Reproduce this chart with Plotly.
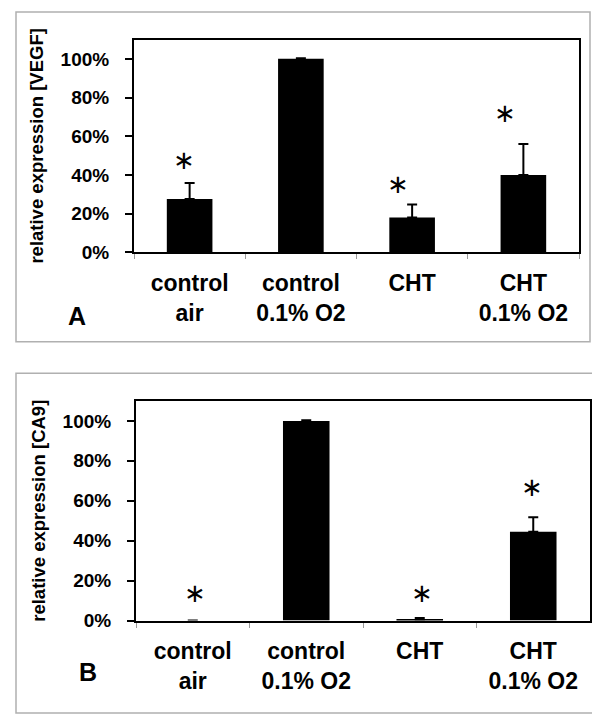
import plotly.graph_objects as go

# ---- data ----
categories = ["control<br>air", "control<br>0.1% O2", "CHT", "CHT<br>0.1% O2"]

vegf_values = [27.5, 100, 18, 40]
vegf_errors = [8.3, 0.3, 6.7, 16]
vegf_star_y = [47.5, None, 35.5, 72]

ca9_values = [0, 100, 0.5, 44.5]
ca9_errors = [None, 0.3, 0.8, 7.3]
ca9_star_y = [14, None, 14, 67]

y_ticks = [0, 20, 40, 60, 80, 100]
y_ticktext = [f"{v}%" for v in y_ticks]

# ---- layout helpers ----
W, H = 600, 724
def px_x(x): return x / W
def px_y(y): return 1 - y / H

FONT = "Liberation Sans, Arial, Helvetica, sans-serif"

fig = go.Figure()

panels = [
    dict(vals=vegf_values, errs=vegf_errors, stars=vegf_star_y, xa="x", ya="y",
         title="relative expression [VEGF]", letter="A",
         dom_x=[px_x(126), px_x(571)], dom_y=[px_y(248), px_y(32)],
         frame=(8, 4, 582, 339), letter_pos=(58, 313),
         star_shift=[-6, 0, -14, -18]),
    dict(vals=ca9_values, errs=ca9_errors, stars=ca9_star_y, xa="x2", ya="y2",
         title="relative expression [CA9]", letter="B",
         dom_x=[px_x(128), px_x(582)], dom_y=[px_y(622), px_y(399)],
         frame=(8, 371, 593, 716), letter_pos=(69, 690),
         star_shift=[2, 0, 2, -1]),
]

annotations = []
shapes = []
for i, p in enumerate(panels):
    fig.add_trace(go.Bar(
        x=categories, y=p["vals"], xaxis=p["xa"], yaxis=p["ya"],
        marker=dict(color="black", line=dict(width=0)),
        error_y=dict(type="data", array=p["errs"], symmetric=False,
                     arrayminus=[None if e is None else 0 for e in p["errs"]],
                     color="black", thickness=2, width=5),
        showlegend=False, hoverinfo="skip",
    ))
    sfx = "" if i == 0 else "2"
    fig.layout["xaxis" + sfx] = dict(
        domain=p["dom_x"], anchor="y" + sfx, type="category",
        showline=True, linecolor="black", linewidth=2, mirror=True,
        ticks="outside", tickson="boundaries", ticklen=5, tickcolor="#999999",
        tickwidth=1, showgrid=False, zeroline=False,
        tickfont=dict(family=FONT, size=23, color="black", weight="bold"),
        ticklabelstandoff=9,
    )
    fig.layout["yaxis" + sfx] = dict(
        domain=p["dom_y"], anchor="x" + sfx, range=[0, 110],
        tickvals=y_ticks, ticktext=y_ticktext,
        showline=True, linecolor="black", linewidth=2, mirror=True,
        ticks="outside", ticklen=7, tickcolor="black", tickwidth=2,
        showgrid=False, zeroline=False,
        ticklabelstandoff=12,
        tickfont=dict(family=FONT, size=19, color="black", weight="bold"),
        title=dict(text=p["title"], standoff=12,
                   font=dict(family=FONT, size=18.5, color="black", weight="bold")),
    )
    for cat, sy, sh in zip(categories, p["stars"], p["star_shift"]):
        if sy is None:
            continue
        annotations.append(dict(
            x=cat, y=sy, xref=p["xa"], yref=p["ya"], text="∗", showarrow=False,
            xshift=sh, font=dict(family="DejaVu Sans", size=26, color="black"),
        ))
    lx, ly = p["letter_pos"]
    annotations.append(dict(
        x=px_x(lx), y=px_y(ly), xref="paper", yref="paper", text=p["letter"],
        showarrow=False, font=dict(family=FONT, size=25, color="black", weight="bold"),
    ))
    x0, y0, x1, y1 = p["frame"]
    shapes.append(dict(type="rect", xref="paper", yref="paper",
                       x0=px_x(x0), x1=px_x(x1), y0=px_y(y1), y1=px_y(y0),
                       line=dict(color="#b0b0b0", width=1.5), layer="below"))

fig.update_layout(
    width=W, height=H, margin=dict(l=0, r=0, t=0, b=0),
    paper_bgcolor="white", plot_bgcolor="white",
    bargap=0.59, annotations=annotations, shapes=shapes,
)

fig.write_html("out.html")
